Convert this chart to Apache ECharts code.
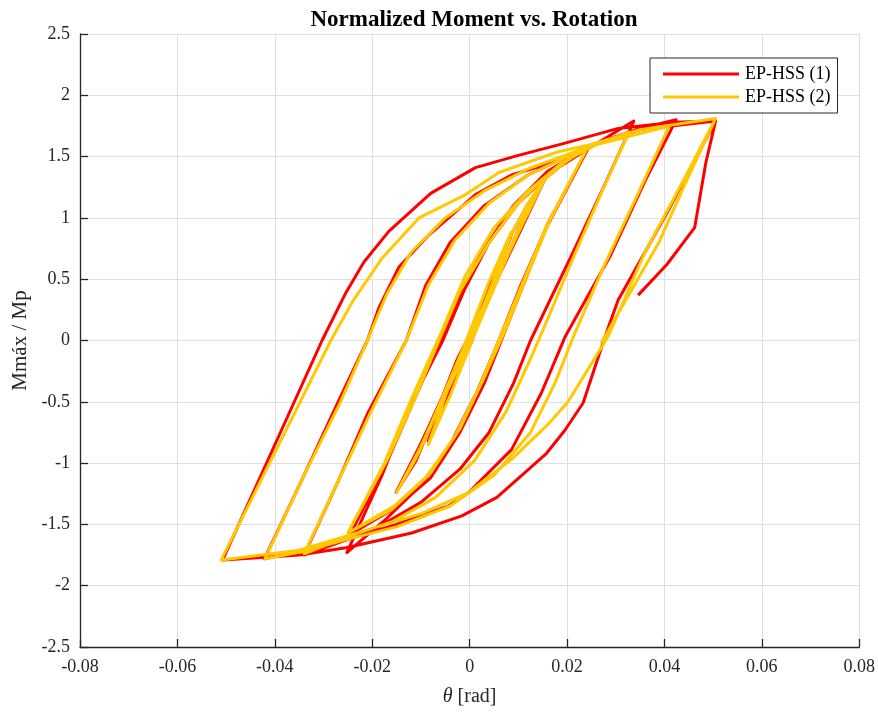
<!DOCTYPE html>
<html>
<head>
<meta charset="utf-8">
<script src="https://cdn.jsdelivr.net/npm/echarts@6/dist/echarts.min.js"></script>
<style>html,body{margin:0;padding:0;background:#fff}#c{width:878px;height:712px}</style>
</head>
<body>
<div id="c"></div>
<script>
// Tick values
var xTicks = [-0.08, -0.06, -0.04, -0.02, 0, 0.02, 0.04, 0.06, 0.08];
var yTicks = [-2.5, -2, -1.5, -1, -0.5, 0, 0.5, 1, 1.5, 2, 2.5];
var seriesNames = ['EP-HSS (1)', 'EP-HSS (2)'];

// EP-HSS (1): [rotation (rad), normalized moment]
var hss1 = [
[0,0],
[0.0045,0.45],[0.0085,0.85],
[0.004,0.45],[-0.0005,0.0],[-0.0045,-0.4],[-0.0085,-0.82],
[-0.004,-0.42],[0.0005,0.0],[0.0045,0.45],[0.0085,0.86],
[0.0115,1.08],[0.0155,1.32],
[0.011,0.95],[0.005,0.45],[-0.001,-0.05],[-0.006,-0.5],[-0.0105,-0.92],[-0.0151,-1.24],
[-0.0105,-0.88],[-0.005,-0.42],[0.0005,0.02],[0.0055,0.48],[0.01,0.9],[0.0125,1.12],[0.0155,1.32],
[0.0105,0.9],[0.004,0.36],[-0.0025,-0.15],[-0.007,-0.6],[-0.011,-0.98],[-0.0151,-1.24],
[-0.0095,-0.8],[-0.004,-0.32],[0.002,0.18],[0.007,0.62],[0.011,1.0],[0.0155,1.32],
[0.02,1.47],[0.0245,1.58],
[0.016,0.95],[0.0115,0.5],[0.007,0.05],[0.003,-0.35],[-0.002,-0.75],[-0.008,-1.12],[-0.015,-1.36],[-0.0245,-1.58],
[-0.0165,-0.95],[-0.011,-0.45],[-0.006,0.0],[-0.002,0.38],[0.003,0.75],[0.009,1.1],[0.016,1.38],[0.0245,1.58],
[0.0155,0.9],[0.0105,0.45],[0.006,0.0],[0.0015,-0.42],[-0.004,-0.85],[-0.01,-1.18],[-0.017,-1.45],[-0.0252,-1.73],
[-0.018,-1.1],[-0.0125,-0.55],[-0.0055,0.0],[-0.001,0.42],[0.004,0.8],[0.01,1.12],[0.017,1.38],[0.025,1.58],[0.0337,1.79],
[0.0275,1.25],[0.021,0.7],[0.0125,0.0],[0.009,-0.35],[0.004,-0.75],[-0.002,-1.05],[-0.01,-1.32],[-0.02,-1.55],[-0.034,-1.75],
[-0.027,-1.15],[-0.021,-0.6],[-0.013,0.0],[-0.009,0.45],[-0.004,0.8],[0.003,1.1],[0.012,1.35],[0.024,1.58],[0.035,1.73],[0.0424,1.8],
[0.036,1.3],[0.029,0.7],[0.0196,0.03],[0.0147,-0.43],[0.0086,-0.89],[-0.0002,-1.24],[-0.0043,-1.35],[-0.015,-1.5],[-0.025,-1.62],[-0.035,-1.72],[-0.0421,-1.78],
[-0.034,-1.1],[-0.027,-0.5],[-0.021,0.0],[-0.0186,0.27],[-0.0145,0.6],[-0.0084,0.86],[0.0012,1.19],[0.0086,1.35],[0.0168,1.45],[0.025,1.59],[0.035,1.72],[0.0505,1.79],
[0.0405,1.04],[0.0305,0.33],[0.0278,0.03],[0.0233,-0.51],[0.0196,-0.73],[0.0158,-0.92],[0.0056,-1.28],[-0.0016,-1.43],[-0.0119,-1.57],[-0.0254,-1.69],[-0.035,-1.75],[-0.0507,-1.79],
[-0.0303,0.0],[-0.0254,0.39],[-0.0217,0.64],[-0.0166,0.89],[-0.008,1.2],[0.0012,1.41],[0.01,1.51],[0.0196,1.61],[0.0305,1.73],[0.042,1.78],[0.0505,1.79],
[0.0485,1.45],[0.0462,0.92],[0.0405,0.62],[0.0346,0.37]
];

// EP-HSS (2): [rotation (rad), normalized moment]
var hss2 = [
[0,0],
[0.0045,0.45],[0.0085,0.88],
[0.004,0.48],[-0.0005,0.02],[-0.0045,-0.4],[-0.0085,-0.85],
[-0.004,-0.45],[0.0005,0.0],[0.0045,0.42],[0.0085,0.86],
[0.012,1.12],[0.0155,1.32],
[0.0105,0.92],[0.0045,0.42],[-0.0015,-0.08],[-0.0065,-0.55],[-0.011,-0.96],[-0.015,-1.24],
[-0.0098,-0.85],[-0.0045,-0.4],[0.001,0.05],[0.006,0.52],[0.0105,0.95],[0.013,1.15],[0.0155,1.32],
[0.0112,0.98],[0.005,0.45],[-0.001,-0.05],[-0.0055,-0.48],[-0.0105,-0.92],[-0.015,-1.24],
[-0.0102,-0.88],[-0.0048,-0.42],[0.0012,0.08],[0.0065,0.58],[0.011,1.0],[0.0155,1.32],
[0.0195,1.45],[0.0243,1.58],
[0.0165,0.98],[0.012,0.55],[0.0075,0.1],[0.003,-0.3],[-0.002,-0.72],[-0.008,-1.08],[-0.0155,-1.35],[-0.025,-1.57],
[-0.017,-0.98],[-0.0115,-0.5],[-0.0065,-0.02],[-0.002,0.4],[0.004,0.8],[0.01,1.12],[0.0165,1.37],[0.0243,1.58],
[0.016,0.95],[0.0112,0.5],[0.0065,0.05],[0.002,-0.38],[-0.003,-0.78],[-0.009,-1.12],[-0.016,-1.38],[-0.025,-1.57],
[-0.0175,-1.0],[-0.012,-0.48],[-0.006,0.05],[-0.001,0.52],[0.005,0.92],[0.012,1.22],[0.019,1.45],[0.026,1.6],[0.0327,1.7],
[0.027,1.2],[0.021,0.65],[0.0165,0.22],[0.0125,-0.15],[0.0075,-0.58],[0.001,-0.98],[-0.007,-1.28],[-0.016,-1.48],[-0.025,-1.6],[-0.034,-1.74],
[-0.027,-1.15],[-0.0205,-0.6],[-0.013,0.0],[-0.0085,0.45],[-0.003,0.82],[0.004,1.12],[0.012,1.35],[0.0243,1.58],[0.041,1.75],
[0.034,1.15],[0.0275,0.6],[0.0215,0.05],[0.0175,-0.35],[0.0125,-0.75],[0.005,-1.1],[-0.004,-1.35],[-0.015,-1.52],[-0.025,-1.62],[-0.034,-1.72],[-0.042,-1.78],
[-0.034,-1.1],[-0.0265,-0.5],[-0.021,0.0],[-0.017,0.38],[-0.012,0.72],[-0.005,1.0],[0.003,1.22],[0.012,1.4],[0.0243,1.58],[0.035,1.72],[0.0505,1.81],
[0.0445,1.35],[0.036,0.72],[0.0284,0.03],[0.0202,-0.5],[0.0162,-0.68],[0.0086,-0.97],[-0.0002,-1.24],[-0.0098,-1.41],[-0.0248,-1.59],[-0.035,-1.71],[-0.051,-1.79],
[-0.0285,0.0],[-0.024,0.32],[-0.018,0.67],[-0.0104,1.0],[-0.0008,1.19],[0.006,1.37],[0.0182,1.54],[0.025,1.6],[0.035,1.72],[0.0505,1.81],
[0.0445,1.3],[0.039,0.81],[0.0299,0.18],[0.027,-0.02]
];

var FONT = "'Liberation Serif','Times New Roman',serif";
var AX = '#262626';
var GRID = '#dfdfdf';

var chart = echarts.init(document.getElementById('c'), null, {renderer: 'canvas'});
chart.setOption({
  backgroundColor: '#ffffff',
  animation: false,
  title: {
    text: 'Normalized Moment vs. Rotation',
    left: 469, top: 4, textAlign: 'center',
    textStyle: {fontFamily: FONT, fontWeight: 'bold', fontSize: 23, color: '#000'}
  },
  legend: {
    data: seriesNames,
    orient: 'vertical',
    left: 650, top: 58,
    padding: [7, 7, 7, 13],
    itemGap: 5,
    itemWidth: 76, itemHeight: 3,
    icon: 'rect',
    backgroundColor: '#fff',
    borderColor: AX, borderWidth: 1,
    textStyle: {fontFamily: FONT, fontSize: 18, color: '#000', lineHeight: 18, padding: [0,0,0,1]}
  },
  grid: {left: 80, right: 16, top: 34, bottom: 60, containLabel: false},
  xAxis: {
    type: 'value', min: xTicks[0], max: xTicks[xTicks.length - 1], interval: 0.02,
    name: '{i|θ} [rad]', nameLocation: 'middle', nameGap: 40,
    nameTextStyle: {fontFamily: FONT, fontSize: 20, color: AX, rich: {i: {fontFamily: FONT, fontStyle: 'italic', fontSize: 20, color: AX}}},
    axisLine: {show: true, onZero: false, lineStyle: {color: AX, width: 1.3}},
    axisTick: {show: true, inside: true, length: 8, lineStyle: {color: AX, width: 1.3}},
    axisLabel: {fontFamily: FONT, fontSize: 18, color: AX, margin: 11,
      formatter: function (v) { return String(+v.toFixed(2)); }},
    splitLine: {show: true, lineStyle: {color: GRID, width: 1}}
  },
  yAxis: {
    type: 'value', min: yTicks[0], max: yTicks[yTicks.length - 1], interval: 0.5,
    name: 'Mmáx / Mp', nameLocation: 'middle', nameGap: 47,
    nameTextStyle: {fontFamily: FONT, fontSize: 21, color: AX},
    axisLine: {show: true, onZero: false, lineStyle: {color: AX, width: 1.3}},
    axisTick: {show: true, inside: true, length: 8, lineStyle: {color: AX, width: 1.3}},
    axisLabel: {fontFamily: FONT, fontSize: 18, color: AX, margin: 10,
      formatter: function (v) { return String(+v.toFixed(1)); }},
    splitLine: {show: true, lineStyle: {color: GRID, width: 1}}
  },
  series: [
    {name: seriesNames[0], type: 'line', data: hss1, showSymbol: false, symbol: 'none',
     color: '#ff0000', lineStyle: {color: '#ff0000', width: 3, join: 'round'}, z: 2},
    {name: seriesNames[1], type: 'line', data: hss2, showSymbol: false, symbol: 'none',
     color: '#ffc800', lineStyle: {color: '#ffc800', width: 3, join: 'round'}, z: 3}
  ]
});
</script>
</body>
</html>
